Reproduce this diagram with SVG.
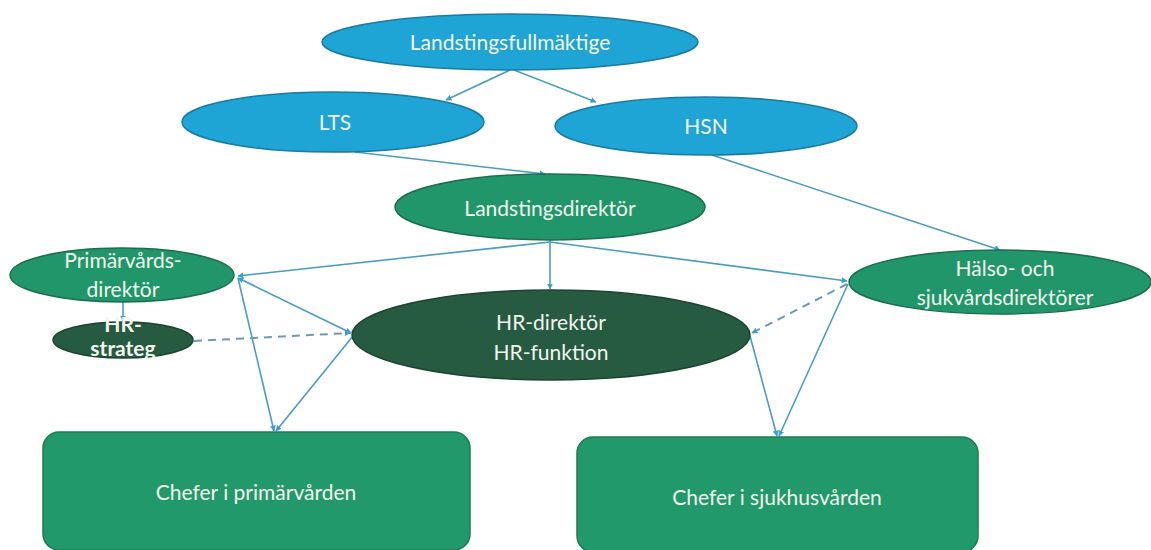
<svg xmlns="http://www.w3.org/2000/svg" width="1151" height="550" viewBox="0 0 1151 550">
<defs>
<marker id="arr" viewBox="0 0 10 10" refX="9" refY="5" markerWidth="6" markerHeight="6" orient="auto-start-reverse" markerUnits="userSpaceOnUse">
<path d="M0,0 L10,5 L0,10 z" fill="#3a9fcf"/>
</marker>
<style>
.blue{fill:#1ea5d6;stroke:#1b7aa0;stroke-width:1.5}
.green{fill:#21966a;stroke:#1a6e4e;stroke-width:1.5}
.dark{fill:#265b41;stroke:#1c4431;stroke-width:1.5}
.box{fill:#22996a;stroke:#1c7a55;stroke-width:1.5}
text{font-family:Lato,"Open Sans","Liberation Sans",sans-serif;fill:#f2f6ee;text-anchor:middle;font-size:21px}
.c{stroke:#4b9cc4;stroke-width:1.6;fill:none;marker-end:url(#arr)}
.d{stroke:#6e9bb2;stroke-width:2;fill:none;stroke-dasharray:8 6;marker-end:url(#arr)}
</style>
</defs>
<rect width="1151" height="550" fill="#ffffff"/>
<g id="connectors">
<line class="c" x1="510" y1="70" x2="446" y2="100"/>
<line class="c" x1="514" y1="70" x2="596" y2="102"/>
<line class="c" x1="355" y1="152" x2="545" y2="174"/>
<line class="c" x1="712" y1="155" x2="1000" y2="250"/>
<line class="c" x1="550" y1="240" x2="550" y2="289"/>
<line class="c" x1="550" y1="242" x2="238" y2="276"/>
<line class="c" x1="550" y1="242" x2="847" y2="281"/>
<line class="c" x1="238" y1="278" x2="351" y2="333" style="marker-start:url(#arr)"/>
<line class="c" x1="238" y1="278" x2="274" y2="431"/>
<line class="c" x1="353" y1="336" x2="276" y2="431"/>
<line class="c" x1="123" y1="302" x2="123" y2="321"/>
<line class="d" x1="194" y1="341" x2="350" y2="333"/>
<line class="d" x1="847" y1="284" x2="752" y2="333"/>
<line class="c" x1="750" y1="336" x2="777" y2="436"/>
<line class="c" x1="848" y1="284" x2="779" y2="436"/>
</g>
<g id="landstingsfullmaktige">
<ellipse class="blue" cx="510" cy="42" rx="188" ry="28"/>
<text x="510" y="50" font-size="22">Landstingsfullmäktige</text>
</g>
<g id="lts">
<ellipse class="blue" cx="333" cy="122" rx="151" ry="30"/>
<text x="335" y="130" font-size="19">LTS</text>
</g>
<g id="hsn">
<ellipse class="blue" cx="706" cy="126" rx="151" ry="29"/>
<text x="706" y="134" font-size="19">HSN</text>
</g>
<g id="landstingsdirektor">
<ellipse class="green" cx="550" cy="207" rx="155" ry="33"/>
<text x="550" y="216" font-size="21.5">Landstingsdirektör</text>
</g>
<g id="primarvardsdirektor">
<ellipse class="green" cx="122" cy="275" rx="112" ry="27"/>
<text x="123" y="268" font-size="23">Primärvårds-</text>
<text x="123" y="297" font-size="23">direktör</text>
</g>
<g id="hrstrateg">
<ellipse class="dark" cx="123" cy="340" rx="70" ry="18"/>
<text x="123" y="332" font-size="12" font-weight="bold">HR-</text>
<text x="123" y="356" font-size="12" font-weight="bold">strateg</text>
</g>
<g id="halso">
<ellipse class="green" cx="1000" cy="282" rx="151" ry="32"/>
<text x="1005" y="276" font-size="22.5">Hälso- och</text>
<text x="1005" y="305" font-size="22.5">sjukvårdsdirektörer</text>
</g>
<g id="hrdirektor">
<ellipse class="dark" cx="551" cy="335" rx="199" ry="45"/>
<text x="551" y="330" font-size="22.5">HR-direktör</text>
<text x="551" y="360" font-size="22.5">HR-funktion</text>
</g>
<g id="chefer-primar">
<rect class="box" x="43" y="432" width="427" height="118" rx="16"/>
<text x="256" y="500">Chefer i primärvården</text>
</g>
<g id="chefer-sjukhus">
<rect class="box" x="577" y="437" width="401" height="115" rx="16"/>
<text x="777" y="505">Chefer i sjukhusvården</text>
</g>
</svg>
